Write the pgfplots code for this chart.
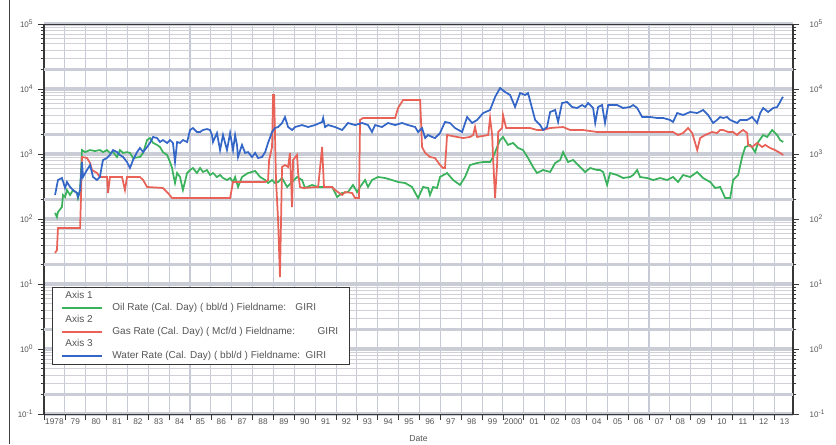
\documentclass[border=0pt]{standalone}
\usepackage{pgfplots}
\pgfplotsset{compat=1.18}
\usepackage{fontspec}
\setmainfont{Liberation Sans}
\definecolor{oilc}{RGB}{58,178,92}
\definecolor{gasc}{RGB}{232,98,88}
\definecolor{watc}{RGB}{52,102,200}
\definecolor{vgrid}{RGB}{198,202,214}
\definecolor{hgrid}{RGB}{208,208,214}
\definecolor{band}{RGB}{202,204,214}
\definecolor{dgrid}{RGB}{120,120,126}
\definecolor{framec}{RGB}{55,55,55}
\definecolor{txt}{RGB}{85,85,85}
\begin{document}
\begin{tikzpicture}
\useasboundingbox (-33pt,-22.5pt) rectangle (594pt,310.5pt);
\draw[line width=1.2pt, black!75] (-26pt,-22.5pt) -- (-26pt,310.5pt);
\begin{axis}[
  at={(0,0)}, anchor=south west,
  scale only axis, width=561.75pt, height=292.5pt,
  xmin=1978, xmax=2013.9,
  ymode=log, ymin=0.1, ymax=1e5,
  separate axis lines,
  x axis line style={framec, line width=0.7pt},
  y axis line style={framec, line width=1.3pt},
  tick align=outside,
  ytick pos=both, xtick pos=bottom,
  xtick={1978,1979,...,2013},
  xticklabels={},
  major tick length=4.5pt, minor tick length=2.5pt,
  tick style={framec, line width=0.5pt},
  extra x ticks={1978.5,1979.5,...,2013.5},
  extra x tick labels={1978,79,80,81,82,83,84,85,86,87,88,89,90,91,92,93,94,95,96,97,98,99,2000,01,02,03,04,05,06,07,08,09,10,11,12,13},
  extra x tick style={grid=none, major tick length=0pt},
  xticklabel style={font=\fontsize{6.2}{7}\selectfont, text=txt, yshift=0pt},
  ytick={0.1,1,10,100,1000,10000,100000},
  yticklabels={10\textsuperscript{-1},10\textsuperscript{0},10\textsuperscript{1},10\textsuperscript{2},10\textsuperscript{3},10\textsuperscript{4},10\textsuperscript{5}},
  minor ytick={0.2,0.3,0.4,0.5,0.6,0.7,0.8,0.9,2,3,4,5,6,7,8,9,20,30,40,50,60,70,80,90,200,300,400,500,600,700,800,900,2000,3000,4000,5000,6000,7000,8000,9000,20000,30000,40000,50000,60000,70000,80000,90000},
  extra y ticks={0.2,2,20,200,2000,20000},
  extra y tick labels={},
  extra y tick style={grid=major, major grid style={dgrid, line width=0.55pt}, major tick length=2.5pt},
  yticklabel style={font=\fontsize{6}{7}\selectfont, text=txt},
  xmajorgrids, ymajorgrids, yminorgrids,
  major x grid style={vgrid, line width=0.8pt},
  major y grid style={band, line width=2.4pt},
  minor y grid style={hgrid, line width=0.5pt},
  xlabel={Date},
  xlabel style={font=\fontsize{6.5}{7}\selectfont, text=txt, yshift=3.5pt},
  legend style={at={(rel axis cs:0.0107,0.3256)}, anchor=north west,
    draw=framec, line width=0.8pt, fill=white,
    font=\fontsize{7.5}{8.5}\selectfont, text=txt,
    inner xsep=6.5pt, inner ysep=0.6pt, row sep=-1.85pt,
    cells={anchor=west}},
  legend image code/.code={\draw[#1, line width=1.4pt] (0pt,0pt) -- (30pt,0pt);},
]
\addlegendimage{empty legend}
\addlegendentry{\hspace{-37pt}Axis 1}
\addplot[draw=oilc, line width=1.3pt] coordinates {
(1978.53,124)(1978.62,107)(1978.67,128)(1978.86,153)(1978.91,234)(1979.01,218)(1979.10,279)(1979.25,234)(1979.39,279)(1979.58,251)(1979.63,210)(1979.73,279)
(1979.82,1150)(1979.97,1070)(1980.21,1150)(1980.44,1110)(1980.68,1150)(1980.83,1070)(1981.02,1150)(1981.16,1040)(1981.31,1070)(1981.50,899)(1981.64,1150)(1981.79,1040)(1981.98,1070)(1982.12,1040)(1982.27,868)(1982.60,899)(1982.75,1040)
(1982.94,1640)(1983.08,1760)(1983.23,1480)(1983.42,1380)(1983.56,1280)(1983.70,1070)(1983.90,965)(1984.04,753)(1984.14,609)(1984.18,510)(1984.28,358)(1984.38,510)(1984.52,443)(1984.66,279)(1984.86,510)(1985.00,567)(1985.14,609)(1985.33,510)(1985.48,609)(1985.62,529)(1985.81,567)(1985.96,475)(1986.10,510)(1986.29,443)(1986.44,475)(1986.58,427)(1986.77,398)(1986.92,427)(1987.06,371)(1987.16,443)(1987.30,311)(1987.49,443)
(1987.78,510)(1988.12,548)(1988.36,443)(1988.60,398)(1988.74,358)(1988.93,398)(1989.07,358)(1989.22,371)(1989.41,427)(1989.65,311)(1989.89,371)(1990.13,443)(1990.37,398)(1990.51,300)(1990.85,334)(1991.14,311)(1991.47,311)(1991.81,311)(1992.05,218)(1992.29,251)(1992.57,260)(1992.81,334)(1993.01,260)(1993.15,311)(1993.39,398)(1993.53,311)(1993.72,398)(1994.01,443)(1994.35,427)(1994.68,398)(1994.97,371)(1995.31,358)(1995.64,311)(1995.93,210)(1996.17,311)(1996.41,300)(1996.50,234)(1996.65,311)(1996.84,300)(1996.98,443)
(1997.32,510)(1997.61,398)(1997.94,334)(1998.18,443)(1998.42,677)(1998.76,727)(1999.05,753)(1999.38,753)(1999.53,899)(1999.72,1280)(1999.86,1640)(2000.00,1830)(2000.24,1380)(2000.48,1480)(2000.72,1240)(2000.96,1150)(2001.20,868)(2001.44,631)(2001.63,510)(2001.92,567)(2002.26,529)(2002.50,727)(2002.74,809)(2002.88,1070)(2003.12,753)(2003.36,809)(2003.70,631)(2003.94,529)(2004.18,609)(2004.51,567)(2004.65,567)(2004.80,529)(2004.99,334)(2005.13,510)(2005.47,475)(2005.76,427)(2006.09,443)
(2006.24,475)(2006.43,567)(2006.57,443)(2006.91,427)(2007.20,398)(2007.53,427)(2007.87,398)(2008.15,443)(2008.39,371)(2008.63,475)(2008.97,443)(2009.31,529)(2009.59,427)(2009.93,371)(2010.17,300)(2010.41,311)(2010.65,210)(2010.89,210)(2011.03,398)(2011.27,475)(2011.46,899)(2011.61,1280)(2011.85,1380)(2012.09,1070)(2012.23,1530)(2012.47,1960)(2012.66,1830)(2012.90,2340)(2013.14,1960)(2013.28,1640)(2013.43,1530)
};
\addlegendentry{\hspace{5pt}Oil Rate (Cal. Day) ( bbl/d ) Fieldname:\hspace{7pt}GIRI}
\addlegendimage{empty legend}
\addlegendentry{\hspace{-37pt}Axis 2}
\addplot[draw=gasc, line width=1.3pt] coordinates {
(1978.53,30)(1978.62,33.3)(1978.67,72.7)(1979.73,72.7)(1979.77,196)(1979.82,899)(1980.06,868)(1980.21,727)(1980.30,567)(1980.54,510)(1980.68,443)(1981.02,443)(1981.07,251)(1981.16,443)(1981.74,443)(1981.88,279)(1981.98,443)(1982.60,443)(1982.75,398)(1982.94,311)(1983.70,300)(1983.94,251)(1984.14,210)(1986.92,210)(1987.06,371)(1988.60,371)(1988.74,398)(1988.79,809)(1988.93,1280)(1988.98,8090)(1989.03,8090)(1989.12,398)(1989.22,96.6)(1989.31,12.8)(1989.41,631)(1989.55,677)(1989.70,631)(1989.79,1040)(1989.89,153)(1989.94,809)(1990.13,965)(1990.18,510)(1990.27,311)(1990.42,300)(1991.14,311)(1991.33,1280)(1991.42,311)(1991.81,311)(1991.95,279)(1992.29,234)(1992.43,260)(1992.77,251)(1992.91,210)(1993.10,210)(1993.15,3340)(1993.29,3580)(1994.83,3580)(1994.97,5100)(1995.21,6770)(1996.03,6770)(1996.12,1280)(1996.27,1040)(1996.50,899)(1996.74,868)(1996.98,677)(1997.13,609)(1997.22,609)(1997.32,1960)(1997.80,1830)(1998.09,1760)(1998.42,1830)(1998.57,1960)(1998.66,2600)(1998.76,1830)(1999.29,1960)(1999.38,3580)(1999.48,1960)(1999.53,809)(1999.62,210)(1999.72,727)(1999.77,2180)(1999.96,2510)(2000.00,3980)(2000.15,2510)(2001.30,2510)(2001.63,2340)(2001.92,2340)(2002.26,2510)(2002.88,2600)(2003.22,2340)(2003.84,2340)(2004.51,2180)(2006.09,2180)(2008.15,2180)(2008.39,1960)(2008.63,2100)(2008.87,2510)(2009.07,2100)(2009.21,1480)(2009.31,1150)(2009.45,1760)(2009.69,1960)(2010.02,2180)(2010.26,2100)(2010.41,2340)(2010.55,2340)(2010.79,2180)(2011.03,2180)(2011.22,1960)(2011.37,2180)(2011.51,2340)(2011.70,2100)(2011.75,1380)(2011.94,1280)(2012.18,1480)(2012.42,1280)(2012.57,1380)(2012.80,1240)(2013.04,1150)(2013.28,1040)(2013.43,965)
};
\addlegendentry{\hspace{5pt}Gas Rate (Cal. Day) ( Mcf/d ) Fieldname:\hspace{17pt}GIRI}
\addlegendimage{empty legend}
\addlegendentry{\hspace{-37pt}Axis 3}
\addplot[draw=watc, line width=1.3pt] coordinates {
(1978.53,234)(1978.67,398)(1978.86,427)(1979.01,300)(1979.10,371)(1979.25,311)(1979.39,279)(1979.58,251)(1979.63,218)(1979.73,279)(1979.82,753)(1979.87,443)(1980.06,567)(1980.21,677)(1980.35,443)(1980.54,398)(1980.68,443)(1980.78,677)(1980.83,809)(1981.02,868)(1981.16,965)(1981.31,1150)(1981.50,1070)(1981.64,965)(1981.79,899)(1981.98,753)(1982.12,609)(1982.27,809)(1982.46,1070)(1982.60,1240)(1982.75,1070)(1982.94,1280)(1983.08,1480)(1983.23,1830)(1983.42,1760)(1983.56,1530)(1983.70,1640)(1983.90,1480)(1984.04,1640)(1984.18,1480)(1984.28,753)(1984.38,1530)(1984.52,1480)(1984.66,1640)(1984.86,1530)
(1985.00,2340)(1985.14,2510)(1985.33,2180)(1985.48,2180)(1985.62,2340)(1985.81,2420)(1985.96,2340)(1986.05,1960)(1986.10,1530)(1986.29,2100)(1986.44,1150)(1986.58,1960)(1986.77,1150)(1986.92,2100)(1987.06,1150)(1987.16,1960)(1987.25,1380)(1987.30,899)(1987.49,1380)(1987.64,1040)(1987.78,1070)(1987.97,899)(1988.12,1040)(1988.26,868)(1988.45,899)(1988.60,1070)(1988.74,1480)(1988.93,2180)(1989.07,2510)(1989.22,2600)(1989.41,3000)(1989.55,3710)(1989.70,2600)(1989.89,2340)(1990.03,2600)(1990.37,2790)(1990.66,2600)(1990.99,2790)(1991.33,3110)(1991.38,3580)(1991.47,2600)(1991.62,2790)(1991.95,2600)(1992.29,2340)(1992.57,3000)(1992.91,2790)(1993.25,3000)(1993.53,2790)(1993.72,2180)(1993.87,2790)(1994.20,2600)(1994.49,3000)(1994.83,2790)(1995.16,3000)(1995.45,2790)(1995.79,2600)(1995.93,2180)(1996.12,2510)(1996.27,1760)(1996.41,1960)(1996.60,1830)(1996.74,1760)(1996.98,2100)
(1997.22,3110)(1997.46,3000)(1997.70,2510)(1998.04,2180)(1998.28,3710)(1998.52,3000)(1998.76,3340)(1999.05,4270)(1999.38,4750)(1999.62,7530)(1999.86,10360)(2000.10,8990)(2000.34,8090)(2000.58,5290)(2000.82,8680)(2001.06,8090)(2001.20,8680)(2001.39,5100)(2001.54,3340)(2001.78,2790)(2001.92,2340)(2002.11,2600)(2002.26,4430)(2002.50,4750)(2002.64,3110)(2002.83,6090)(2003.07,6310)(2003.31,5290)(2003.55,5100)(2003.79,5670)(2003.94,5290)(2004.08,6090)(2004.32,5100)(2004.42,3000)(2004.56,5290)(2004.75,5670)(2004.89,3000)(2005.04,5670)(2005.47,5670)(2005.76,5100)(2006.09,5290)
(2006.24,5670)(2006.43,5100)(2006.67,3710)(2007.05,3710)(2007.39,3580)(2007.68,3580)(2008.01,3340)(2008.15,3110)(2008.35,4270)(2008.63,3980)(2008.97,4430)(2009.31,4270)(2009.59,4750)(2009.83,3980)(2010.07,3000)(2010.26,3340)(2010.41,3710)(2010.55,3580)(2010.74,3710)(2010.89,3340)(2011.22,3000)(2011.37,3340)(2011.70,3340)(2011.94,3710)(2012.18,3000)(2012.33,4270)(2012.47,5100)(2012.71,4430)(2012.95,5100)(2013.14,5290)(2013.28,6310)(2013.38,7270)(2013.43,7530)
};
\addlegendentry{\hspace{5pt}Water Rate (Cal. Day) ( bbl/d ) Fieldname:\hspace{4pt}GIRI}
\end{axis}
\begin{axis}[
  at={(0,0)}, anchor=south west,
  scale only axis, width=561.75pt, height=292.5pt,
  xmin=1978, xmax=2013.9,
  ymode=log, ymin=0.1, ymax=1e5,
  hide x axis, axis y line*=right,
  axis line style={draw=none},
  ytick={0.1,1,10,100,1000,10000,100000},
  yticklabels={10\textsuperscript{-1},10\textsuperscript{0},10\textsuperscript{1},10\textsuperscript{2},10\textsuperscript{3},10\textsuperscript{4},10\textsuperscript{5}},
  minor ytick={},
  ytick style={draw=none},
  yticklabel style={font=\fontsize{6}{7}\selectfont, text=txt, xshift=9pt},
]
\addplot[draw=none] coordinates {(1990,1)};
\end{axis}
\end{tikzpicture}
\end{document}
